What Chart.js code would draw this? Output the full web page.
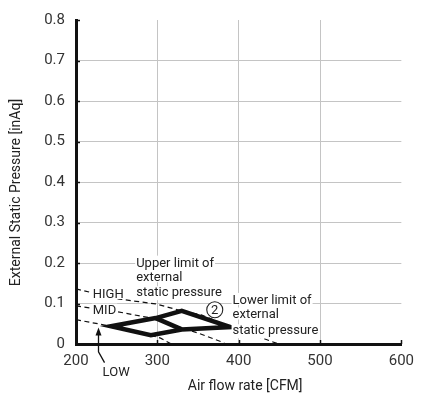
<!DOCTYPE html>
<html>
<head>
<meta charset="utf-8">
<script src="https://cdn.jsdelivr.net/npm/chart.js@4.4.0/dist/chart.umd.min.js"></script>
<style>
  html, body { margin: 0; padding: 0; background: #fff; }
  #wrap { width: 422px; height: 398px; }
</style>
</head>
<body>
<div id="wrap"><canvas id="fanChart"></canvas></div>
<script>
// axis ticks
var xTicks = [200, 300, 400, 500, 600];
var yTicks = [0, 0.1, 0.2, 0.3, 0.4, 0.5, 0.6, 0.7, 0.8];

// fan curves (dashed), air flow [CFM] / static pressure [inAq]
var highFlow = [200, 253, 298, 330, 354, 390, 423, 449];
var highPres = [0.136, 0.111, 0.099, 0.082, 0.072, 0.042, 0.019, 0];
var midFlow = [200, 250, 298, 330, 350, 378, 384];
var midPres = [0.094, 0.080, 0.062, 0.040, 0.027, 0.006, 0];
var lowFlow = [200, 243, 292, 304, 317];
var lowPres = [0.060, 0.044, 0.022, 0.0145, 0];

// operating range (thick outline + MID segment)
var rangeFlow = [298, 330, 390, 330, 292, 243, 298];
var rangePres = [0.064, 0.082, 0.042, 0.036, 0.022, 0.044, 0.064];
var midSegFlow = [298, 330];
var midSegPres = [0.064, 0.036];

function pts(xs, ys) {
  var out = [];
  for (var i in xs) {
    out.push({x: xs[i], y: ys[i]});
  }
  return out;
}

var textColor = "#222";
var fontFam = "Roboto, 'Noto Sans', sans-serif";

function dashed(xs, ys) {
  return {
    data: pts(xs, ys),
    showLine: true,
    borderColor: "#111",
    borderWidth: 1.2,
    borderDash: [5, 3.5],
    pointRadius: 0,
    fill: false,
    tension: 0
  };
}

function thick(xs, ys) {
  return {
    data: pts(xs, ys),
    showLine: true,
    borderColor: "#111",
    borderWidth: 4.5,
    borderJoinStyle: "miter",
    borderCapStyle: "butt",
    pointRadius: 0,
    fill: false,
    tension: 0
  };
}

// text on white box, left aligned at baseline
function boxText(ctx, s, px, py) {
  var m = ctx.measureText(s);
  ctx.fillStyle = "#fff";
  ctx.fillRect(px - 1, py - m.actualBoundingBoxAscent - 1, m.width + 2,
               m.actualBoundingBoxAscent + m.actualBoundingBoxDescent + 2);
  ctx.fillStyle = textColor;
  ctx.fillText(s, px, py);
}

var extras = {
  id: "extras",
  afterDraw: function(chart) {
    var ctx = chart.ctx;
    var xs = chart.scales.x, ys = chart.scales.y;
    var area = chart.chartArea;
    ctx.save();

    // inward tick marks
    ctx.strokeStyle = "#111";
    ctx.lineWidth = 1.5;
    yTicks.forEach(function(v) {
      if (v === 0) return;
      var y = Math.round(ys.getPixelForValue(v)) + 0.5;
      ctx.beginPath(); ctx.moveTo(area.left, y); ctx.lineTo(area.left + 4, y); ctx.stroke();
    });
    xTicks.forEach(function(v) {
      if (v === 200) return;
      var x = Math.round(xs.getPixelForValue(v)) + 0.5;
      ctx.beginPath(); ctx.moveTo(x, area.bottom); ctx.lineTo(x, area.bottom - 4); ctx.stroke();
    });

    // annotations
    ctx.font = "13px " + fontFam;
    ctx.textAlign = "left";
    ctx.textBaseline = "alphabetic";
    var upX = xs.getPixelForValue(274);
    boxText(ctx, "Upper limit of", upX, ys.getPixelForValue(0.191));
    boxText(ctx, "external", upX, ys.getPixelForValue(0.155));
    boxText(ctx, "static pressure", upX, ys.getPixelForValue(0.118));

    var loX = xs.getPixelForValue(392.5);
    boxText(ctx, "Lower limit of", loX, ys.getPixelForValue(0.099));
    boxText(ctx, "external", loX, ys.getPixelForValue(0.063));
    boxText(ctx, "static pressure", loX, ys.getPixelForValue(0.024));

    boxText(ctx, "HIGH", xs.getPixelForValue(220.6), ys.getPixelForValue(0.1135));
    boxText(ctx, "MID", xs.getPixelForValue(220.6), ys.getPixelForValue(0.075));
    boxText(ctx, "LOW", xs.getPixelForValue(232.7), ys.getPixelForValue(-0.0797));

    // arrow to LOW curve
    var ax = Math.round(xs.getPixelForValue(226.6)) + 0.5;
    var aTop = ys.getPixelForValue(0.041);
    var aBend = ys.getPixelForValue(-0.0193);
    ctx.strokeStyle = "#111";
    ctx.lineWidth = 1.3;
    ctx.beginPath();
    ctx.moveTo(ax, aTop + 6);
    ctx.lineTo(ax, aBend);
    ctx.lineTo(xs.getPixelForValue(235.1), ys.getPixelForValue(-0.0459));
    ctx.stroke();
    ctx.fillStyle = "#111";
    ctx.beginPath();
    ctx.moveTo(ax, aTop);
    ctx.lineTo(ax - 3, aTop + 8);
    ctx.lineTo(ax + 3, aTop + 8);
    ctx.closePath();
    ctx.fill();

    // circled 2
    var cx = xs.getPixelForValue(370.6), cy = ys.getPixelForValue(0.0845);
    ctx.fillStyle = "#fff";
    ctx.beginPath(); ctx.arc(cx, cy, 8, 0, Math.PI * 2); ctx.fill();
    ctx.strokeStyle = "#222"; ctx.lineWidth = 1.1; ctx.stroke();
    ctx.fillStyle = textColor;
    ctx.textAlign = "center";
    ctx.textBaseline = "middle";
    ctx.fillText("2", cx, cy + 0.5);

    // axis titles
    ctx.font = "14px " + fontFam;
    ctx.fillText("Air flow rate [CFM]", xs.getPixelForValue(408), area.bottom + 42);
    ctx.translate(16, ys.getPixelForValue(0.374));
    ctx.rotate(-Math.PI / 2);
    ctx.fillText("External Static Pressure [inAq]", 0, 0);
    ctx.restore();
  }
};

var chartdata = {
  datasets: [
    dashed(highFlow, highPres),
    dashed(midFlow, midPres),
    dashed(lowFlow, lowPres),
    thick(rangeFlow, rangePres),
    thick(midSegFlow, midSegPres)
  ]
};

var tickFont = {family: fontFam, size: 15};

var x = document.getElementById("fanChart");
var LineGraph = new Chart(x, {
  type: "scatter",
  data: chartdata,
  plugins: [extras],
  options: {
    responsive: true,
    maintainAspectRatio: false,
    animation: false,
    devicePixelRatio: 1,
    layout: {padding: {top: 13, right: 15, left: 0, bottom: 0}},
    plugins: {legend: {display: false}, tooltip: {enabled: false}},
    scales: {
      x: {
        type: "linear",
        min: 200,
        max: 600,
        afterBuildTicks: function(s) { s.ticks = xTicks.map(function(v) { return {value: v}; }); },
        afterFit: function(s) { s.height = 54; },
        ticks: {font: tickFont, color: "#333", padding: 8, maxRotation: 0},
        grid: {
          drawTicks: false,
          lineWidth: 1,
          color: function(c) { return (c.tick && (c.tick.value === 200 || c.tick.value === 600)) ? "rgba(0,0,0,0)" : "#c4c4c4"; }
        },
        border: {display: true, color: "#111", width: 3}
      },
      y: {
        type: "linear",
        min: 0,
        max: 0.8,
        afterBuildTicks: function(s) { s.ticks = yTicks.map(function(v) { return {value: v}; }); },
        afterFit: function(s) { s.width = 76; },
        ticks: {font: tickFont, color: "#333", padding: 11,
                callback: function(v) { return v === 0 ? "0" : v.toFixed(1); }},
        grid: {
          drawTicks: false,
          lineWidth: 1,
          color: function(c) { return (c.tick && (c.tick.value === 0 || c.tick.value === 0.8)) ? "rgba(0,0,0,0)" : "#c4c4c4"; }
        },
        border: {display: true, color: "#111", width: 3}
      }
    }
  }
});
</script>
</body>
</html>
